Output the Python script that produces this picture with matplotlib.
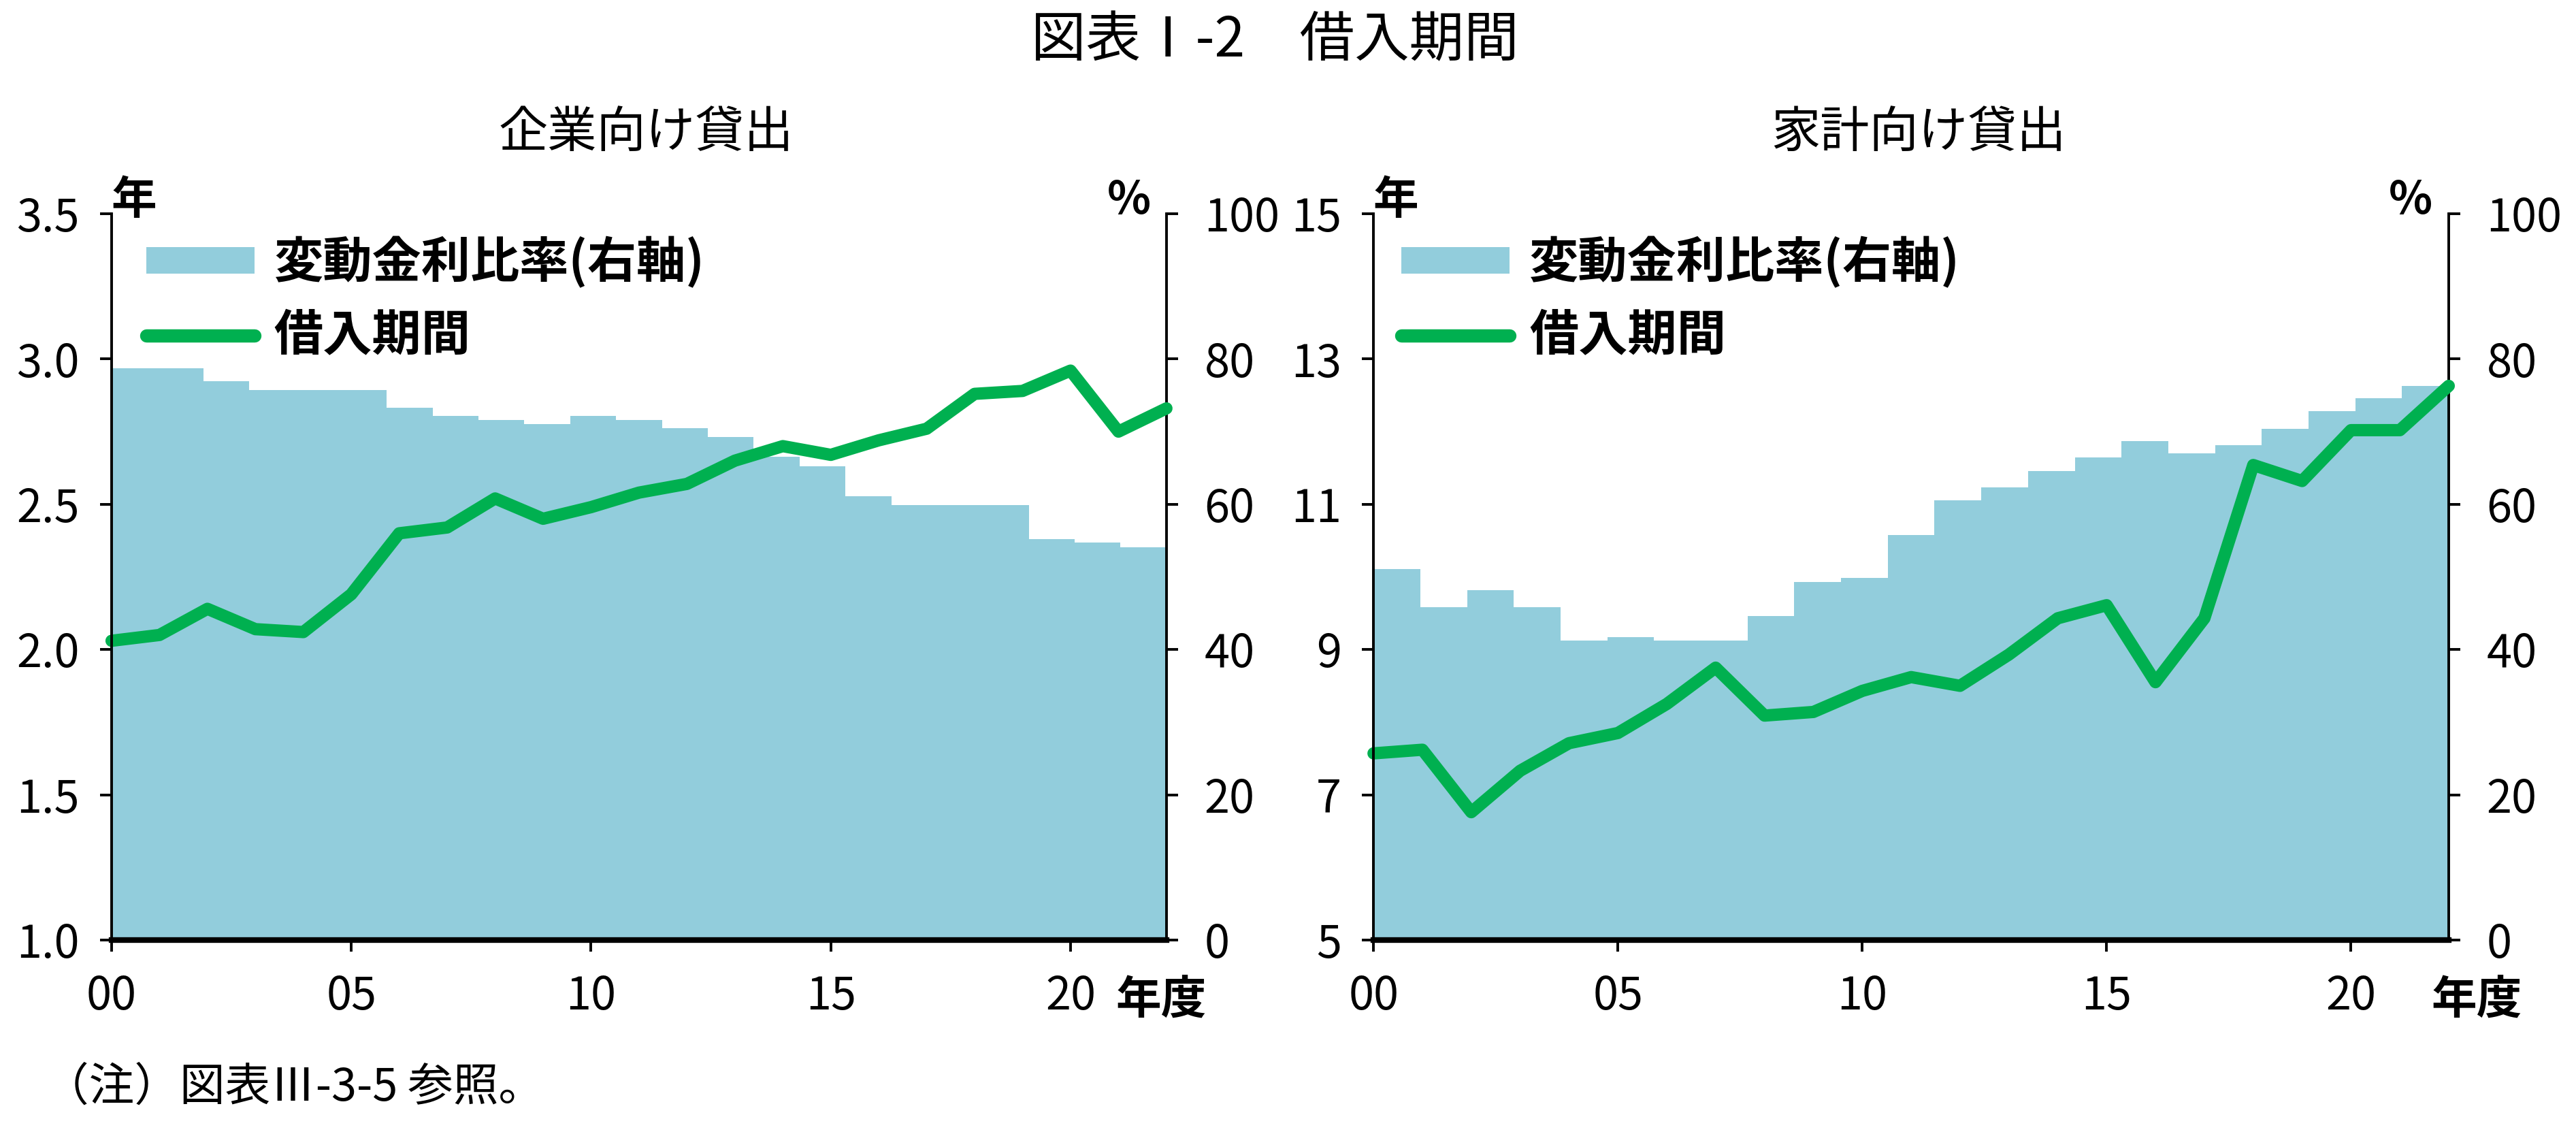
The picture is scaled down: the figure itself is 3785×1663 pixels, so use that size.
import numpy as np
import matplotlib.pyplot as plt
import matplotlib.patches as mpatches
from matplotlib.lines import Line2D

plt.rcParams['font.family'] = ['Noto Sans CJK JP', 'DejaVu Sans']

# 年度 (2000-2022)
years = np.arange(2000, 2023)
xtick_pos = [2000, 2005, 2010, 2015, 2020]
xtick_labels = ['00', '05', '10', '15', '20']

# 企業向け貸出
corp_period = [2.03, 2.05, 2.14, 2.07, 2.06, 2.19, 2.40, 2.42, 2.52, 2.45, 2.49, 2.54,
               2.57, 2.65, 2.70, 2.67, 2.72, 2.76, 2.88, 2.89, 2.96, 2.75, 2.83]
corp_rate = [78.7, 78.7, 76.9, 75.7, 75.7, 75.7, 73.3, 72.2, 71.6, 71.0, 72.2, 71.6,
             70.5, 69.3, 66.5, 65.2, 61.1, 59.9, 59.9, 59.9, 55.2, 54.7, 54.1]
corp_yticks = [1.0, 1.5, 2.0, 2.5, 3.0, 3.5]
corp_yticklabels = ['1.0', '1.5', '2.0', '2.5', '3.0', '3.5']

# 家計向け貸出
hh_period = [7.57, 7.62, 6.76, 7.33, 7.71, 7.85, 8.25, 8.75, 8.09, 8.14, 8.43, 8.62,
             8.50, 8.93, 9.43, 9.61, 8.55, 9.43, 11.54, 11.32, 12.02, 12.02, 12.63]
hh_rate = [51.1, 45.8, 48.2, 45.8, 41.2, 41.7, 41.2, 41.2, 44.6, 49.3, 49.9, 55.8,
           60.5, 62.3, 64.6, 66.4, 68.7, 67.0, 68.1, 70.4, 72.8, 74.6, 76.3]
hh_yticks = [5, 7, 9, 11, 13, 15]
hh_yticklabels = ['5', '7', '9', '11', '13', '15']

rate_ticks = [0, 20, 40, 60, 80, 100]

BAR_COLOR = '#92CDDC'
LINE_COLOR = '#00B050'
FS = 24


def draw_panel(ax, period, rate, yticks, yticklabels, title, nendo_x, leg_x):
    ax2 = ax.twinx()
    ax.set_zorder(ax2.get_zorder() + 1)
    ax.patch.set_visible(False)

    # 変動金利比率: 23本の棒を横軸いっぱいに並べる
    edges = np.linspace(years[0], years[-1], len(rate) + 1)
    ax2.stairs(rate, edges, fill=True, color=BAR_COLOR, baseline=0, lw=0)
    ax2.set_ylim(0, 100)
    ax2.set_yticks(rate_ticks)

    ax.plot(years, period, color=LINE_COLOR, lw=6.5, solid_joinstyle='round',
            solid_capstyle='round', clip_on=False)
    ax.set_xlim(years[0], years[-1])
    ax.set_ylim(yticks[0], yticks[-1])
    ax.set_yticks(yticks)
    ax.set_yticklabels(yticklabels)
    ax.set_xticks(xtick_pos)
    ax.set_xticklabels(xtick_labels)

    for s in ['top', 'right']:
        ax.spines[s].set_visible(False)
    for s in ['top', 'left', 'bottom']:
        ax2.spines[s].set_visible(False)
    ax.spines['left'].set_linewidth(1.4)
    ax.spines['bottom'].set_linewidth(3)
    ax2.spines['right'].set_linewidth(1.4)

    ax.tick_params(axis='y', direction='out', length=6, width=1.4, labelsize=FS, pad=11)
    ax.tick_params(axis='x', direction='out', length=6, width=1.4, labelsize=FS, pad=12)
    ax2.tick_params(axis='y', direction='out', length=6, width=1.4, labelsize=FS, pad=14)

    ax.text(0.021, 1.018, '年', transform=ax.transAxes, ha='center', va='center',
            fontsize=FS, fontweight='bold')
    ax.text(0.985, 1.018, '%', transform=ax.transAxes, ha='right', va='center',
            fontsize=FS, fontweight='bold')
    ax.text(nendo_x, -0.083, '年度', transform=ax.transAxes, ha='center', va='center',
            fontsize=FS, fontweight='bold')
    ax.text(0.507, 1.111, title, transform=ax.transAxes, ha='center', va='center', fontsize=26)

    handles = [mpatches.Patch(facecolor=BAR_COLOR, edgecolor='none'),
               Line2D([], [], color=LINE_COLOR, lw=7, solid_capstyle='round')]
    ax.legend(handles, ['変動金利比率(右軸)', '借入期間'], loc='upper left',
              bbox_to_anchor=(leg_x, 0.968), frameon=False,
              prop={'size': 26, 'weight': 'bold'},
              handlelength=2.2, handleheight=0.45, handletextpad=0.4,
              labelspacing=0.45, borderpad=0, borderaxespad=0)


fig = plt.figure(figsize=(18.925, 8.315), dpi=200)
ax_l = fig.add_axes([0.0433, 0.1696, 0.4095, 0.6416])
ax_r = fig.add_axes([0.5332, 0.1696, 0.4174, 0.6416])

draw_panel(ax_l, corp_period, corp_rate, corp_yticks, corp_yticklabels, '企業向け貸出', 0.995, 0.033)
draw_panel(ax_r, hh_period, hh_rate, hh_yticks, hh_yticklabels, '家計向け貸出', 1.026, 0.026)

fig.text(0.495, 0.964, '図表Ⅰ-2　借入期間', ha='center', va='center', fontsize=29)
fig.text(0.017, 0.039, '（注）図表Ⅲ-3-5 参照。', ha='left', va='center', fontsize=24)

fig.savefig('out.png', dpi=200)
